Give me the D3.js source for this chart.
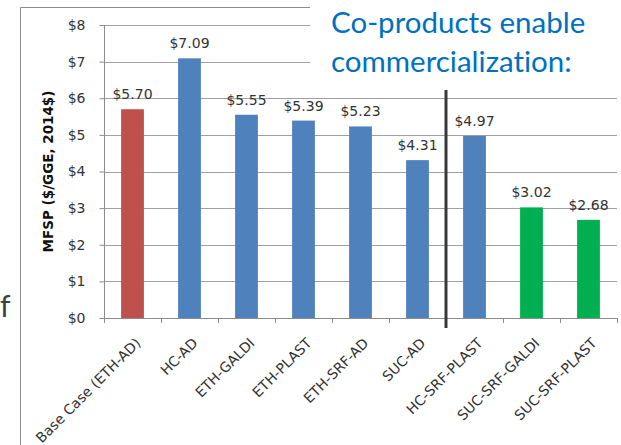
<!DOCTYPE html>
<html>
<head>
<meta charset="utf-8">
<script src="https://cdn.jsdelivr.net/npm/d3@7"></script>
<style>
  html, body { margin: 0; padding: 0; background: #fff; }
  svg { display: block; }
  text { font-variant-ligatures: none; font-feature-settings: "liga" 0; }
</style>
</head>
<body>
<script>
// Minimum fuel selling price by conversion scenario
const categories = ["Base Case (ETH-AD)", "HC-AD", "ETH-GALDI", "ETH-PLAST", "ETH-SRF-AD",
                    "SUC-AD", "HC-SRF-PLAST", "SUC-SRF-GALDI", "SUC-SRF-PLAST"];
const mfsp = [5.70, 7.09, 5.55, 5.39, 5.23, 4.31, 4.97, 3.02, 2.68];
const groups = ["base", "alt", "alt", "alt", "alt", "alt", "alt", "target", "target"];
const yTicks = [0, 1, 2, 3, 4, 5, 6, 7, 8];
const dividerAfter = "SUC-AD";
const yTitle = "MFSP ($/GGE, 2014$)";
const headline = ["Co-products enable", "commercialization:"];

const W = 621, H = 445;
const groupColor = { base: "#C0504D", alt: "#4F81BD", target: "#00B050" };
const chartFont = "'DejaVu Sans', sans-serif";

const svg = d3.select("body").append("svg").attr("width", W).attr("height", H);

const x = d3.scaleBand().domain(categories).range([104, 617]).paddingInner(0.6).paddingOuter(0.3);
const y = d3.scaleLinear().domain([0, 8]).range([318, 25]);

// outer chart frame (left and top edges)
svg.append("path")
  .attr("d", "M20.5,445 V7.5 H320")
  .attr("fill", "none").attr("stroke", "#8c8c8c").attr("stroke-width", 1);

// horizontal gridlines
svg.append("g").selectAll("line").data(yTicks.filter(d => d > 0)).join("line")
  .attr("x1", 104).attr("x2", 617)
  .attr("y1", d => Math.round(y(d)) + 0.5).attr("y2", d => Math.round(y(d)) + 0.5)
  .attr("stroke", "#a0a0a0").attr("stroke-width", 1);

// y axis
const yAxis = svg.append("g").attr("transform", "translate(104.5,0)")
  .call(d3.axisLeft(y).tickValues(yTicks).tickFormat(d => "$" + d).tickSize(5).tickPadding(14));
yAxis.select(".domain").attr("stroke", "#8c8c8c").attr("d", `M0,${y(8)}V${y(0)}`);
yAxis.selectAll(".tick line").attr("stroke", "#8c8c8c");
yAxis.selectAll(".tick text").attr("font-family", chartFont).attr("font-size", 14).attr("fill", "#333");

// x axis with ticks on category boundaries
const step = x.step();
const bounds = d3.range(categories.length + 1).map(i => 104 + i * step);
svg.append("line").attr("x1", 104).attr("x2", 617).attr("y1", y(0) + 0.5).attr("y2", y(0) + 0.5)
  .attr("stroke", "#8c8c8c");
svg.append("g").selectAll("line").data(bounds).join("line")
  .attr("x1", d => Math.round(d) + 0.5).attr("x2", d => Math.round(d) + 0.5)
  .attr("y1", y(0)).attr("y2", y(0) + 5).attr("stroke", "#8c8c8c");

// headline text box sits over the upper gridlines
svg.append("rect").attr("x", 310).attr("y", 0).attr("width", W - 310).attr("height", 88).attr("fill", "#fff");
svg.append("g").selectAll("text").data(headline).join("text")
  .attr("x", 331).attr("y", (d, i) => 33 + i * 38.5)
  .attr("font-family", "Lato, 'Open Sans', sans-serif").attr("font-size", 29.5)
  .attr("fill", "#0070C0").text(d => d);

// bars
const data = categories.map((c, i) => ({ c, v: mfsp[i], g: groups[i] }));
svg.append("g").selectAll("rect").data(data).join("rect")
  .attr("x", d => x(d.c)).attr("width", x.bandwidth())
  .attr("y", d => y(d.v)).attr("height", d => y(0) - y(d.v))
  .attr("fill", d => groupColor[d.g]);

// value labels
svg.append("g").selectAll("text").data(data).join("text")
  .attr("x", d => x(d.c) + x.bandwidth() / 2).attr("y", d => y(d.v) - 10)
  .attr("text-anchor", "middle")
  .attr("font-family", chartFont).attr("font-size", 14).attr("fill", "#333")
  .text(d => "$" + d.v.toFixed(2));

// rotated category labels
svg.append("g").selectAll("text").data(categories).join("text")
  .attr("transform", d => `translate(${x(d) + x.bandwidth() / 2 + 9},344) rotate(-45)`)
  .attr("text-anchor", "end")
  .attr("font-family", chartFont).attr("font-size", 14).attr("fill", "#333")
  .text(d => d);

// divider between scenario sets
const divX = x(dividerAfter) + x.bandwidth() + step * x.paddingInner() / 2;
svg.append("line").attr("x1", divX).attr("x2", divX).attr("y1", 90).attr("y2", 328)
  .attr("stroke", "#383838").attr("stroke-width", 3);

// y axis title
svg.append("text")
  .attr("transform", `translate(53,${(y(0) + y(8)) / 2}) rotate(-90)`)
  .attr("text-anchor", "middle")
  .attr("font-family", chartFont).attr("font-weight", "bold").attr("font-size", 13.5)
  .attr("fill", "#111").text(yTitle);

// stray slide glyph at left margin
svg.append("text").attr("x", 0).attr("y", 317)
  .attr("font-family", "Lato, sans-serif").attr("font-size", 30).attr("fill", "#404040").text("f");
</script>
</body>
</html>
